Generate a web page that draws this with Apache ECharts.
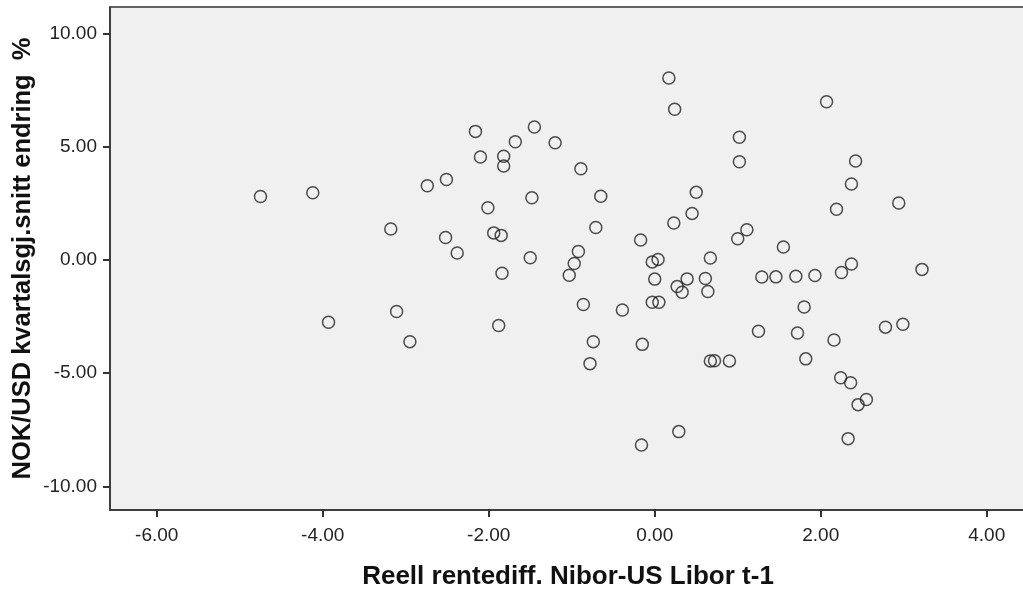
<!DOCTYPE html>
<html lang="no">
<head>
    <meta charset="UTF-8">
    <title>NOK/USD mot rentediff</title>
    <script src="https://cdn.jsdelivr.net/npm/echarts@6/dist/echarts.min.js"></script>
    <style>
        html, body { margin: 0; padding: 0; background: #fff; }
        #main { width: 1023px; height: 591px; }
    </style>
</head>
<body>
    <div id="main"></div>

    <script type="text/javascript">
        // x: reell rentediff. Nibor-US Libor t-1
        var rentediff = [
            -4.75, -4.12, -3.93, -3.18, -3.11, -2.95, -2.74, -2.51, -2.52, -2.38,
            -2.16, -2.10, -2.01, -1.94, -1.85, -1.84, -1.82, -1.82, -1.88, -1.68,
            -1.45, -1.48, -1.50, -1.20, -1.03, -0.97, -0.92, -0.89, -0.86, -0.78,
            -0.74, -0.71, -0.65, -0.39, -0.15, -0.16, -0.17, -0.03, 0.04, 0.00,
            -0.03, 0.05, 0.17, 0.24, 0.23, 0.27, 0.33, 0.29, 0.39, 0.45,
            0.50, 0.61, 0.64, 0.67, 0.67, 0.72, 0.90, 1.02, 1.02, 1.00,
            1.11, 1.25, 1.29, 1.46, 1.55, 1.70, 1.72, 1.80, 1.82, 1.93,
            2.07, 2.16, 2.19, 2.24, 2.25, 2.37, 2.37, 2.42, 2.36, 2.33,
            2.45, 2.55, 2.78, 2.94, 2.99, 3.22
        ];
        // y: NOK/USD kvartalsgj.snitt endring %
        var endring = [
            2.80, 2.96, -2.75, 1.36, -2.28, -3.61, 3.27, 3.55, 0.99, 0.30,
            5.67, 4.54, 2.30, 1.19, 1.08, -0.59, 4.57, 4.14, -2.90, 5.21,
            5.86, 2.74, 0.09, 5.17, -0.68, -0.16, 0.37, 4.02, -1.97, -4.58,
            -3.61, 1.43, 2.81, -2.21, -3.73, -8.17, 0.88, -0.09, 0.02, -0.85,
            -1.87, -1.87, 8.03, 6.65, 1.63, -1.18, -1.43, -7.58, -0.84, 2.05,
            2.98, -0.82, -1.40, 0.08, -4.46, -4.45, -4.46, 5.41, 4.33, 0.93,
            1.33, -3.15, -0.76, -0.75, 0.57, -0.72, -3.23, -2.08, -4.37, -0.69,
            6.98, -3.54, 2.23, -5.20, -0.56, 3.35, -0.18, 4.36, -5.42, -7.89,
            -6.39, -6.16, -2.97, 2.51, -2.84, -0.42
        ];
        var xTicks = [-6, -4, -2, 0, 2, 4];
        var yTicks = [-10, -5, 0, 5, 10];

        var punkter = [];
        for (var i = 0; i < rentediff.length; i++) {
            punkter.push([rentediff[i], endring[i]]);
        }

        var myChart = echarts.init(document.getElementById('main'));
        var option = {
            animation: false,
            textStyle: { fontFamily: 'Arial, "Liberation Sans", sans-serif' },
            grid: {
                left: 110,
                right: -3,
                top: 7,
                bottom: 81,
                outerBoundsMode: 'none',
                containLabel: false,
                show: true,
                backgroundColor: '#f0f0f0',
                borderColor: '#333',
                borderWidth: 1.5
            },
            xAxis: {
                type: 'value',
                min: -6.563,
                max: 4.473,
                name: 'Reell rentediff. Nibor-US Libor t-1',
                nameLocation: 'middle',
                nameGap: 54,
                nameMoveOverlap: false,
                nameTextStyle: { fontSize: 26, fontWeight: 'bold', color: '#111' },
                splitLine: { show: false },
                axisLine: { show: true, onZero: false, lineStyle: { color: '#333', width: 1.5 } },
                axisTick: {
                    show: true, length: 7, customValues: xTicks,
                    lineStyle: { color: '#333', width: 2 }
                },
                axisLabel: {
                    customValues: xTicks, margin: 16, fontSize: 19, color: '#222',
                    formatter: function (v) { return v.toFixed(2); }
                }
            },
            yAxis: {
                type: 'value',
                min: -11.04,
                max: 11.16,
                name: 'NOK/USD kvartalsgj.snitt endring  %',
                nameLocation: 'middle',
                nameGap: 74,
                nameMoveOverlap: false,
                nameTextStyle: { fontSize: 25.5, fontWeight: 'bold', color: '#111' },
                splitLine: { show: false },
                axisLine: { show: true, onZero: false, lineStyle: { color: '#333', width: 1.5 } },
                axisTick: {
                    show: true, length: 7, customValues: yTicks,
                    lineStyle: { color: '#333', width: 2 }
                },
                axisLabel: {
                    customValues: yTicks, margin: 13, fontSize: 19, color: '#222',
                    formatter: function (v) { return v.toFixed(2); }
                }
            },
            series: [{
                type: 'scatter',
                data: punkter,
                symbol: 'circle',
                symbolSize: 12,
                itemStyle: {
                    color: 'rgba(0,0,0,0)',
                    borderColor: '#222',
                    borderWidth: 1.5
                }
            }]
        };
        myChart.setOption(option);
    </script>
</body>
</html>
